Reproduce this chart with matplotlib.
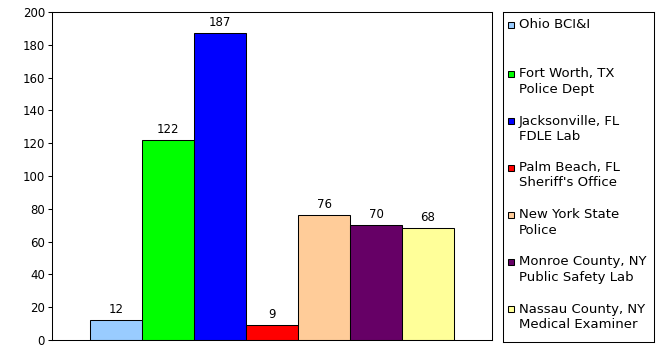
import matplotlib
matplotlib.use("Agg")
import matplotlib.pyplot as plt
from matplotlib.patches import Rectangle

labs = ["Ohio BCI&I", "Fort Worth, TX\nPolice Dept", "Jacksonville, FL\nFDLE Lab",
        "Palm Beach, FL\nSheriff's Office", "New York State\nPolice",
        "Monroe County, NY\nPublic Safety Lab", "Nassau County, NY\nMedical Examiner"]
counts = [12, 122, 187, 9, 76, 70, 68]
colors = ["#99CCFF", "#00FF00", "#0000FF", "#FF0000", "#FFCC99", "#660066", "#FFFF99"]

W, H = 662, 358
fig = plt.figure(figsize=(W / 100, H / 100), dpi=100)
plt.rcParams['font.family'] = ['DejaVu Sans']

# plot area in pixels: x 52..492, y 12..340
ax = fig.add_axes([52 / W, (H - 340) / H, 440 / W, 328 / H])
pos = list(range(len(counts)))
bars = ax.bar(pos, counts, width=1.0, color=colors, edgecolor="black", linewidth=0.75)
ax.bar_label(bars, padding=3, fontsize=8.5)
ax.set_ylim(0, 200)
ax.set_xlim(3 - 4.23, 3 + 4.23)
ax.set_yticks(range(0, 201, 20))
ax.set_xticks([])
ax.tick_params(axis="y", length=3, width=0.75, labelsize=8.5, pad=2)
for s in ax.spines.values():
    s.set_linewidth(0.75)

# legend box drawn by hand: x 503..654, y 12..342
lax = fig.add_axes([503 / W, (H - 342) / H, 151 / W, 330 / H])
lax.set_xlim(503, 654)
lax.set_ylim(342, 12)
lax.set_xticks([])
lax.set_yticks([])
for s in lax.spines.values():
    s.set_linewidth(0.75)

y0, step = 27, 47
for i, (lab, c) in enumerate(zip(labs, colors)):
    y = y0 + i * step - (2 if i == 0 else 0)
    lax.add_patch(Rectangle((508, y - 3.5), 6, 6, facecolor=c, edgecolor="black",
                            linewidth=0.75))
    for k, line in enumerate(lab.split("\n")):
        lax.text(519, y + 15 * k, line, fontsize=9.5, va="center", ha="left")

fig.savefig("out.png", dpi=100)
